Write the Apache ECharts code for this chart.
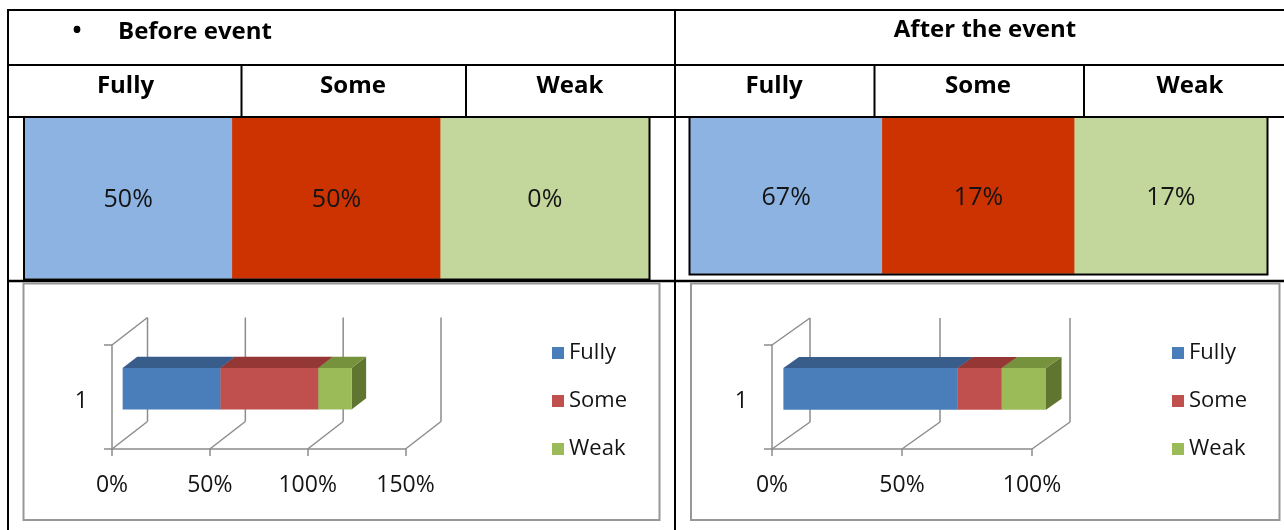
<!DOCTYPE html>
<html>
<head>
<meta charset="utf-8">
<script src="https://cdn.jsdelivr.net/npm/echarts@6/dist/echarts.min.js"></script>
<style>
  html, body { margin: 0; padding: 0; background: #ffffff; }
  #chart { width: 1284px; height: 530px; }
</style>
</head>
<body>
<div id="chart"></div>
<script>
// ---- data ----
const categories = ['Fully', 'Some', 'Weak'];
const tableBefore = [50, 50, 0];
const tableAfter = [67, 17, 17];
const chartBefore = [50, 50, 17];
const chartAfter = [67, 17, 17];
const ticksBefore = [0, 50, 100, 150];
const ticksAfter = [0, 50, 100];
const rowLabels = ['1'];
const headingBefore = 'Before event';
const headingAfter = 'After the event';

// ---- styles ----
const FONT = '"Open Sans", "Liberation Sans", sans-serif';
const TEXT = '#141414';
const cellColors = ['#8DB3E2', '#CC3300', '#C3D69B'];
const faceFront = ['#4A7EBB', '#C0504D', '#9BBB59'];
const faceTop = ['#385D8A', '#953735', '#76923C'];
const faceSide = ['#2C4D75', '#772C2A', '#5F7530'];
const FRAME = '#8C8C8C';
const NEAR = 0.3, FAR = 0.71, BAR_RATIO = 0.4;

// cumulative [start, end, row] segments for a stacked bar
function segments(values) {
  let acc = 0;
  return values.map(v => { const s = acc; acc += v; return [s, acc, 0]; });
}

// pseudo-3D stacked bar segment: side, top and front faces
function barRenderer(depth, colorIndex) {
  return function (params, api) {
    const a = api.coord([api.value(0), 0]);
    const b = api.coord([api.value(1), 0]);
    if (b[0] - a[0] <= 0) return null;
    const h = api.size([0, 1])[1] * BAR_RATIO;
    const ox = depth.dx * NEAR, oy = depth.dy * NEAR;
    const tx = depth.dx * (FAR - NEAR), ty = depth.dy * (FAR - NEAR);
    const x0 = a[0] + ox, x1 = b[0] + ox;
    const y0 = a[1] - h / 2 + oy, y1 = y0 + h;
    return {
      type: 'group',
      children: [
        { type: 'polygon', shape: { points: [[x1, y0], [x1 + tx, y0 + ty], [x1 + tx, y1 + ty], [x1, y1]] },
          style: { fill: faceSide[colorIndex] } },
        { type: 'polygon', shape: { points: [[x0, y0], [x1, y0], [x1 + tx, y0 + ty], [x0 + tx, y0 + ty]] },
          style: { fill: faceTop[colorIndex] } },
        { type: 'rect', shape: { x: x0, y: y0, width: x1 - x0, height: h },
          style: { fill: faceFront[colorIndex] } }
      ]
    };
  };
}

// back-wall gridlines, floor diagonals and the side-wall top edge
function frameRenderer(depth) {
  return function (params, api) {
    const cs = params.coordSys;
    const x = api.coord([api.value(0), 0])[0];
    const yTop = cs.y, yBot = cs.y + cs.height;
    const ls = { stroke: FRAME, lineWidth: 1.5 };
    const children = [
      { type: 'line', shape: { x1: x + depth.dx, y1: yTop + depth.dy, x2: x + depth.dx, y2: yBot + depth.dy }, style: ls },
      { type: 'line', shape: { x1: x, y1: yBot, x2: x + depth.dx, y2: yBot + depth.dy }, style: ls }
    ];
    if (params.dataIndex === 0) {
      children.push({ type: 'line', shape: { x1: x, y1: yTop, x2: x + depth.dx, y2: yTop + depth.dy }, style: ls });
    }
    return { type: 'group', children };
  };
}

const depthBefore = { dx: 35.5, dy: -27.5 };
const depthAfter = { dx: 38, dy: -27 };

function valueAxis(gridIndex, ticks) {
  return {
    type: 'value', gridIndex, min: ticks[0], max: ticks[ticks.length - 1], interval: ticks[1] - ticks[0],
    axisLine: { show: true, lineStyle: { color: FRAME, width: 1.5 } },
    axisTick: { show: true, length: 7, lineStyle: { color: FRAME, width: 1.5 } },
    splitLine: { show: false },
    axisLabel: { formatter: '{value}%', fontSize: 23, fontFamily: FONT, color: TEXT, margin: 25 }
  };
}
function rowAxis(gridIndex) {
  return {
    type: 'category', gridIndex, data: rowLabels,
    axisLine: { show: true, lineStyle: { color: FRAME, width: 1.5 } },
    axisTick: { show: true, length: 8, alignWithLabel: false, lineStyle: { color: FRAME, width: 1.5 } },
    splitLine: { show: false },
    axisLabel: {
      margin: 24, formatter: '{v|{value}}',
      rich: { v: { fontSize: 23, fontFamily: FONT, color: TEXT, padding: [9, 0, 0, 0] } }
    }
  };
}
function hiddenCat(gridIndex, data) {
  return { type: 'category', gridIndex, data, show: false, axisLine: { show: false }, axisTick: { show: false },
    axisLabel: { show: false }, splitLine: { show: false } };
}

function heatSeries(idx, values, dy) {
  return {
    type: 'heatmap', xAxisIndex: idx, yAxisIndex: idx,
    data: values.map((v, i) => ({ value: [i, 0, v], itemStyle: { color: cellColors[i] } })),
    label: { show: true, formatter: p => p.value[2] + '%', fontSize: 25, fontFamily: FONT, color: TEXT, offset: [0, dy] },
    itemStyle: { borderWidth: 0 },
    emphasis: { disabled: true }
  };
}

function barSeries(axisIdx, values, depth) {
  return segments(values).map((seg, i) => ({
    type: 'custom', name: categories[i], xAxisIndex: axisIdx, yAxisIndex: axisIdx,
    coordinateSystem: 'cartesian2d', clip: false, z: 3,
    itemStyle: { color: faceFront[i] },
    encode: { x: [0, 1], y: 2 },
    data: [seg],
    renderItem: barRenderer(depth, i)
  }));
}
function frameSeries(axisIdx, ticks, depth) {
  return {
    type: 'custom', xAxisIndex: axisIdx, yAxisIndex: axisIdx, coordinateSystem: 'cartesian2d',
    clip: false, z: 1, silent: true,
    data: ticks.map(t => [t, 0]),
    encode: { x: 0, y: 1 },
    renderItem: frameRenderer(depth)
  };
}

// ---- table rules and headings ----
const black = w => ({ stroke: '#000', lineWidth: w });
function hline(y, x1, x2, w) { return { type: 'line', shape: { x1, y1: y, x2, y2: y }, style: black(w || 2), z: 10 }; }
function vline(x, y1, y2, w) { return { type: 'line', shape: { x1: x, y1, x2: x, y2 }, style: black(w || 2), z: 10 }; }
function label(text, x, y, align) {
  return { type: 'text', z: 10, style: { text, x, y, fill: '#000', font: 'bold 24px ' + FONT,
    align: align || 'center', textAlign: align || 'center', verticalAlign: 'middle', textVerticalAlign: 'middle' } };
}
const headerCenters = [[125.5, 353, 570], [774, 978, 1190]];
const graphics = [
  hline(10, 7, 1284), vline(8, 9, 530), vline(675, 9, 530),
  hline(65, 8, 1284), hline(117, 8, 1284), hline(281, 8, 1284, 2.5),
  vline(241.5, 65, 117), vline(466, 65, 117), vline(874.5, 65, 117), vline(1084, 65, 117),
  label('\u2022', 77, 31), label(headingBefore, 118, 32, 'left'), label(headingAfter, 985, 30)
];
categories.forEach((c, i) => {
  graphics.push(label(c, headerCenters[0][i], 86));
  graphics.push(label(c, headerCenters[1][i], 86));
});
// borders of the colour cells and of the chart panels
graphics.push(
  { type: 'rect', z: 10, shape: { x: 24, y: 117, width: 625.5, height: 162.5 }, style: { fill: null, stroke: '#000', lineWidth: 2 } },
  { type: 'rect', z: 10, shape: { x: 689.5, y: 117, width: 578, height: 157.5 }, style: { fill: null, stroke: '#000', lineWidth: 2 } },
  { type: 'rect', z: 10, shape: { x: 23.5, y: 283.5, width: 636, height: 236.5 }, style: { fill: null, stroke: '#979797', lineWidth: 2 } },
  { type: 'rect', z: 10, shape: { x: 691, y: 283.5, width: 588.5, height: 236.5 }, style: { fill: null, stroke: '#979797', lineWidth: 2 } }
);

function legendAt(left) {
  return {
    orient: 'vertical', left, top: 342, padding: 0, itemWidth: 12, itemHeight: 12, itemGap: 26,
    icon: 'rect', selectedMode: false, data: categories,
    textStyle: { fontSize: 22, fontFamily: FONT, color: TEXT, lineHeight: 22 }
  };
}

const chart = echarts.init(document.getElementById('chart'), null, { renderer: 'canvas' });
chart.setOption({
  animation: false,
  backgroundColor: '#ffffff',
  grid: [
    { left: 24, top: 118, width: 625, height: 160.5 },
    { left: 690, top: 118, width: 577, height: 155.5 },
    { left: 112, top: 345, width: 293.5, height: 104 },
    { left: 772, top: 345, width: 260, height: 104 }
  ],
  xAxis: [hiddenCat(0, categories), hiddenCat(1, categories), valueAxis(2, ticksBefore), valueAxis(3, ticksAfter)],
  yAxis: [hiddenCat(0, ['']), hiddenCat(1, ['']), rowAxis(2), rowAxis(3)],
  legend: [legendAt(552), legendAt(1172)],
  series: [
    heatSeries(0, tableBefore, 2),
    heatSeries(1, tableAfter, 2),
    frameSeries(2, ticksBefore, depthBefore),
    frameSeries(3, ticksAfter, depthAfter),
    ...barSeries(2, chartBefore, depthBefore),
    ...barSeries(3, chartAfter, depthAfter)
  ],
  graphic: { elements: graphics }
});
</script>
</body>
</html>
